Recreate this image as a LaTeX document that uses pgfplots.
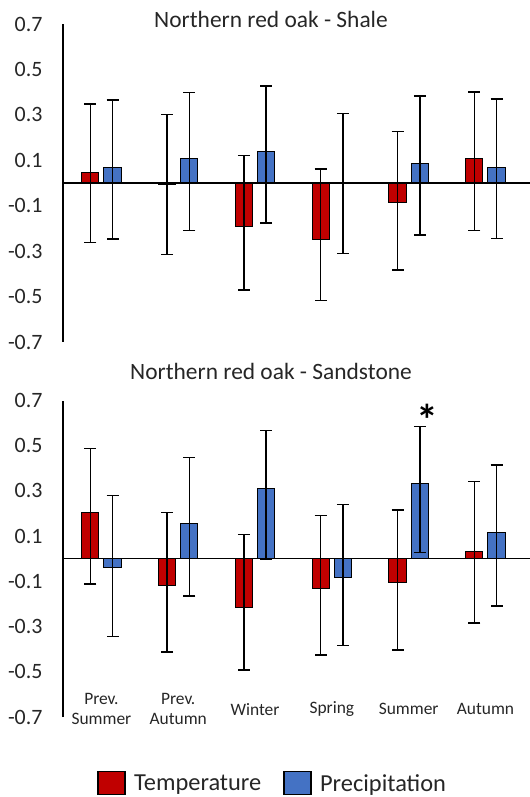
\documentclass[border=0pt]{standalone}
\usepackage{pgfplots}
\pgfplotsset{compat=1.18}
\usepackage{pgfplotstable}
\usepackage{fontspec}
\setmainfont{Carlito}
\definecolor{tred}{HTML}{C00000}
\definecolor{pblue}{HTML}{4472C4}
\definecolor{txt}{HTML}{262626}

\pgfplotstableread{
x y ep em
0 0.047 0.301 0.310
1 -0.006 0.307 0.308
2 -0.192 0.314 0.279
3 -0.250 0.312 0.268
4 -0.087 0.313 0.295
5 0.106 0.294 0.315
}\shaleT
\pgfplotstableread{
x y ep em
0 0.068 0.298 0.315
1 0.106 0.292 0.316
2 0.139 0.287 0.315
3 0.003 0.302 0.313
4 0.088 0.295 0.316
5 0.068 0.301 0.312
}\shaleP
\pgfplotstableread{
x y ep em
0 0.205 0.282 0.317
1 -0.118 0.323 0.295
2 -0.215 0.323 0.276
3 -0.130 0.322 0.296
4 -0.105 0.320 0.299
5 0.030 0.311 0.315
}\sandT
\pgfplotstableread{
x y ep em
0 -0.037 0.317 0.307
1 0.158 0.289 0.322
2 0.311 0.257 0.315
3 -0.083 0.322 0.300
4 0.335 0.251 0.307
5 0.117 0.297 0.325
}\sandP

\pgfplotsset{
 panel/.style={
  scale only axis, width=467bp, xmin=-0.5, xmax=5.58, ymin=-0.7, ymax=0.7,
  axis x line=none, axis y line*=left,
  ytick={-0.7,-0.5,-0.3,-0.1,0.1,0.3,0.5,0.7},
  yticklabels={-0.7,-0.5,-0.3,-0.1,0.1,0.3,0.5,0.7},
  major tick length=0pt,
  y axis line style={line width=1.3bp, black},
  yticklabel style={font=\fontsize{22}{26}\selectfont, text=txt, xshift=-17bp},
  ybar, bar width=0.225,
  clip=false,
 },
 errs/.style={error bars/.cd, y dir=both, y explicit,
   error bar style={line width=1.5bp, black},
   error mark options={rotate=90, line width=1.5bp, mark size=6bp, black}},
 barT/.style={fill=tred, draw=black, line width=1bp, bar shift=-0.145, errs},
 barP/.style={fill=pblue, draw=black, line width=1bp, bar shift=0.145, errs},
}

\begin{document}
\begin{tikzpicture}
\path[use as bounding box] (0,0) rectangle (530bp,797bp);

\begin{axis}[panel, at={(63bp,455bp)}, anchor=south west, height=318bp]
\addplot[barT] table[x=x, y=y, y error plus=ep, y error minus=em] {\shaleT};
\addplot[barP] table[x=x, y=y, y error plus=ep, y error minus=em] {\shaleP};
\draw[line width=1.3bp] (axis cs:-0.5,0) -- (axis cs:5.58,0);
\end{axis}

\begin{axis}[panel, at={(63bp,80bp)}, anchor=south west, height=316.5bp,
  legend style={at={(0.449,-0.2085)}, anchor=center, legend columns=2, draw=none, fill=none,
    font=\fontsize{24.5}{28}\selectfont, text=txt, /tikz/every even column/.append style={column sep=20bp}},
  legend image code/.code={\draw[#1, line width=1.6bp] (0bp,-11bp) rectangle (27bp,12bp); \path[draw=none,fill=none] (34bp,0bp);},
]
\addplot[barT] table[x=x, y=y, y error plus=ep, y error minus=em] {\sandT};
\addlegendentry{Temperature}
\addplot[barP] table[x=x, y=y, y error plus=ep, y error minus=em] {\sandP};
\addlegendentry{Precipitation}
\draw[line width=1.3bp] (axis cs:-0.5,0) -- (axis cs:5.58,0);
\node[font=\bfseries\fontsize{44}{44}\selectfont] at (axis cs:4.245,0.615) {*};
\begin{scope}[every node/.style={font=\fontsize{17.5}{20.5}\selectfont, text=txt, align=center}]
\node at (axis cs:0,-0.665) {Prev.\\Summer};
\node at (axis cs:1,-0.665) {Prev.\\Autumn};
\node at (axis cs:2,-0.665) {Winter};
\node at (axis cs:3,-0.665) {Spring};
\node at (axis cs:4,-0.665) {Summer};
\node at (axis cs:5,-0.665) {Autumn};
\end{scope}
\end{axis}

\node[anchor=base, font=\fontsize{23.5}{27}\selectfont, text=txt] at (271bp,769bp) {Northern red oak - Shale};
\node[anchor=base, font=\fontsize{23.5}{27}\selectfont, text=txt] at (271bp,417.7bp) {Northern red oak - Sandstone};
\end{tikzpicture}
\end{document}
